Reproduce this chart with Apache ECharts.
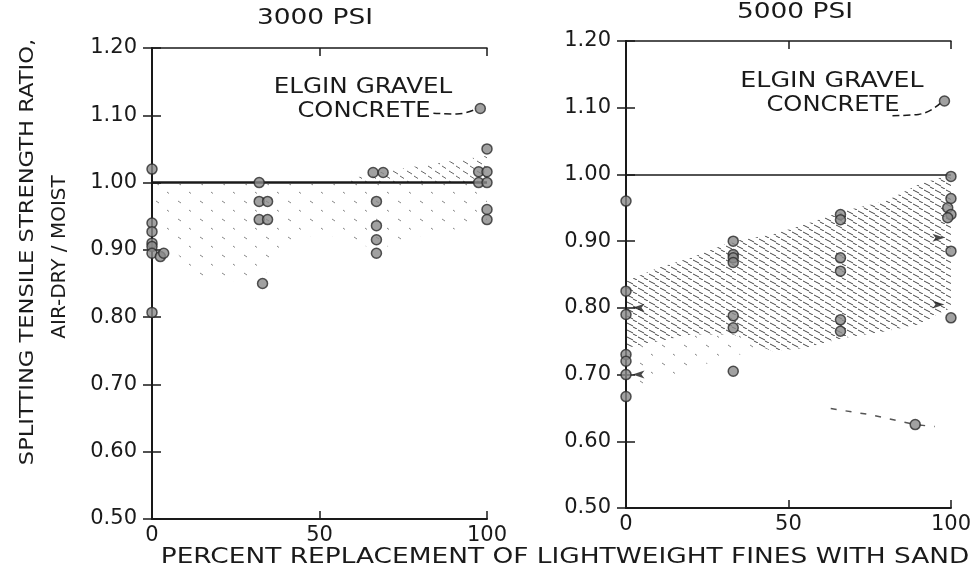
<!DOCTYPE html>
<html>
<head>
<meta charset="utf-8">
<script src="https://cdn.jsdelivr.net/npm/echarts@6/dist/echarts.min.js"></script>
<style>
    html, body { margin: 0; background: #fff; }
    #chart { width: 974px; height: 575px; }
</style>
</head>
<body>
<div id="chart"></div>
<script>
    // axis ranges
    var pctTicks = [0, 50, 100];
    var ratioMin = 0.5, ratioMax = 1.2, ratioStep = 0.1;

    // 3000 psi - measured ratios
    var psi3000Pct =   [0, 0, 0, 0, 0, 0, 0, 2.5, 3.5, 32, 32, 34.5, 32, 34.5, 33, 66, 69, 67, 67, 67, 67, 100, 97.5, 100, 97.5, 100, 100, 100];
    var psi3000Ratio = [1.02, 0.94, 0.927, 0.91, 0.905, 0.895, 0.807, 0.89, 0.895, 1.00, 0.972, 0.972, 0.945, 0.945, 0.85, 1.015, 1.015, 0.972, 0.936, 0.915, 0.895, 1.05, 1.016, 1.016, 1.00, 1.00, 0.96, 0.945];

    // 5000 psi - measured ratios
    var psi5000Pct =   [0, 0, 0, 0, 0, 0, 0, 33, 33, 33, 33, 33, 33, 33, 66, 66, 66, 66, 66, 66, 100, 100, 99, 100, 99, 100, 100, 89];
    var psi5000Ratio = [0.96, 0.825, 0.79, 0.73, 0.72, 0.70, 0.667, 0.90, 0.88, 0.875, 0.868, 0.788, 0.77, 0.705, 0.94, 0.932, 0.875, 0.855, 0.782, 0.765, 0.997, 0.964, 0.95, 0.94, 0.935, 0.885, 0.785, 0.625];

    // elgin gravel concrete
    var elginPct = [98];
    var elginRatio = [1.11];

    // small arrows on the 5000 psi edges
    var arrowLeftPct = [2, 2];
    var arrowLeftRatio = [0.80, 0.70];
    var arrowRightPct = [98, 98];
    var arrowRightRatio = [0.905, 0.805];

    // shaded bands (x, lower, upper)
    var band3000aPct = [55, 67, 80, 100];
    var band3000aLow = [1.00, 1.00, 1.00, 1.00];
    var band3000aHigh = [1.00, 1.015, 1.025, 1.04];

    var band3000bPct = [0, 10, 20, 33, 45, 55, 67, 80, 100];
    var band3000bLow = [0.98, 0.87, 0.85, 0.86, 0.92, 0.92, 0.90, 0.92, 0.94];
    var band3000bHigh = [0.998, 0.998, 0.998, 0.998, 0.998, 0.998, 0.998, 0.998, 0.998];

    var band5000aPct = [0, 10, 20, 33, 45, 55, 67, 80, 90, 100];
    var band5000aLow = [0.74, 0.75, 0.76, 0.76, 0.735, 0.74, 0.755, 0.765, 0.775, 0.80];
    var band5000aHigh = [0.84, 0.86, 0.875, 0.90, 0.91, 0.925, 0.945, 0.96, 0.985, 1.00];

    var band5000bPct = [0, 10, 20, 35, 45];
    var band5000bLow = [0.68, 0.69, 0.71, 0.73, 0.735];
    var band5000bHigh = [0.74, 0.75, 0.76, 0.76, 0.735];

    // dashed trace near 0.63
    var tailPct = [63, 75, 89, 95];
    var tailRatio = [0.649, 0.64, 0.625, 0.622];

    // elgin leaders
    var lead3000Pct = [84, 91, 97];
    var lead3000Ratio = [1.103, 1.102, 1.11];
    var lead5000Pct = [82, 90, 97];
    var lead5000Ratio = [1.088, 1.09, 1.108];

    var ink = '#1a1a1a';
    var font = 'DejaVu Sans';

    function pairs(xs, ys) {
        return xs.map(function (x, i) { return [x, ys[i]]; });
    }

    function hatch(w, h, segs, color) {
        var c = document.createElement('canvas');
        c.width = w; c.height = h;
        var ctx = c.getContext('2d');
        ctx.strokeStyle = color;
        ctx.lineWidth = 1;
        segs.forEach(function (s) {
            ctx.beginPath();
            ctx.moveTo(s[0], s[1]);
            ctx.lineTo(s[2], s[3]);
            ctx.stroke();
        });
        return { image: c, repeat: 'repeat' };
    }

    var dense = hatch(11, 7, [[0, 1, 6, 4], [6, 5, 10, 7]], '#444');
    var medium = hatch(14, 10, [[1, 1, 6, 4], [8, 6, 12, 8.5]], '#666');
    var sparse = hatch(22, 18, [[2, 3, 5, 5], [13, 12, 15, 13.5]], '#888');

    // band drawn as one polygon through the axis scales
    function band(xs, lo, hi, grid, pattern) {
        return {
            type: 'custom', xAxisIndex: grid * 2, yAxisIndex: grid * 2,
            data: xs.map(function (x, i) { return [x, lo[i], hi[i]]; }),
            encode: { x: 0, y: [1, 2] },
            silent: true, z: 1,
            renderItem: function (params, api) {
                if (params.dataIndex !== 0) return null;
                var pts = [];
                for (var i = 0; i < xs.length; i++) pts.push(api.coord([xs[i], hi[i]]));
                for (var j = xs.length - 1; j >= 0; j--) pts.push(api.coord([xs[j], lo[j]]));
                return { type: 'polygon', shape: { points: pts }, style: { fill: pattern } };
            }
        };
    }

    function axesFor(grid) {
        var xb = {
            type: 'value', gridIndex: grid, min: 0, max: 100, interval: 50, position: 'bottom',
            axisLine: { lineStyle: { color: ink, width: 2 } },
            axisTick: { inside: true, length: 8, lineStyle: { color: ink, width: 1.5 } },
            axisLabel: { fontSize: 21, color: ink, fontFamily: font, margin: 6 },
            splitLine: { show: false }
        };
        var xt = {
            type: 'value', gridIndex: grid, min: 0, max: 100, interval: 50, position: 'top',
            axisLine: { lineStyle: { color: ink, width: 1.5 } },
            axisTick: { inside: true, length: 8, lineStyle: { color: ink, width: 1.5 } },
            axisLabel: { show: false }, splitLine: { show: false }
        };
        var yl = {
            type: 'value', gridIndex: grid, min: ratioMin, max: ratioMax, interval: ratioStep, position: 'left',
            axisLine: { show: true, lineStyle: { color: ink, width: 2 } },
            axisTick: { show: true, inside: true, length: 9, lineStyle: { color: ink, width: 1.5 } },
            axisLabel: {
                fontSize: 21, color: ink, fontFamily: font, margin: 15,
                formatter: function (v) { return v.toFixed(2); }
            },
            splitLine: { show: false }
        };
        var yr = {
            type: 'value', gridIndex: grid, min: ratioMin, max: ratioMax, interval: ratioStep, position: 'right',
            axisLine: { show: true, lineStyle: { color: ink, width: 1.5 } },
            axisTick: { show: true, inside: true, length: 9, lineStyle: { color: ink, width: 1.5 } },
            axisLabel: { show: false }, splitLine: { show: false }
        };
        return { x: [xb, xt], y: [yl, yr] };
    }

    var a0 = axesFor(0), a1 = axesFor(1);

    function dots(xs, ys, grid, refWidth) {
        var s = {
            type: 'scatter', xAxisIndex: grid * 2, yAxisIndex: grid * 2,
            data: pairs(xs, ys), symbol: 'circle', symbolSize: 10, clip: false,
            itemStyle: { color: '#8a8a8a', borderColor: '#2a2a2a', borderWidth: 1.5 }, z: 5
        };
        if (refWidth) {
            s.markLine = {
                silent: true, symbol: 'none', label: { show: false },
                lineStyle: { color: ink, width: refWidth, type: 'solid' },
                data: [{ yAxis: 1.0 }]
            };
        }
        return s;
    }

    function arrows(xs, ys, rot) {
        return {
            type: 'scatter', xAxisIndex: 2, yAxisIndex: 2, data: pairs(xs, ys),
            symbol: 'arrow', symbolSize: [6, 12], symbolRotate: rot, clip: false,
            itemStyle: { color: ink }, z: 4, silent: true
        };
    }

    function leader(xs, ys, grid) {
        return {
            type: 'line', xAxisIndex: grid * 2, yAxisIndex: grid * 2, data: pairs(xs, ys),
            smooth: true, symbol: 'none', lineStyle: { color: ink, width: 1.5, type: [7, 4] }, z: 4
        };
    }

    var series = [
        band(band3000aPct, band3000aLow, band3000aHigh, 0, medium),
        band(band3000bPct, band3000bLow, band3000bHigh, 0, sparse),
        band(band5000aPct, band5000aLow, band5000aHigh, 1, dense),
        band(band5000bPct, band5000bLow, band5000bHigh, 1, sparse),
        dots(psi3000Pct, psi3000Ratio, 0, 2.5),
        dots(psi5000Pct, psi5000Ratio, 1, 1.5),
        dots(elginPct, elginRatio, 0),
        dots(elginPct, elginRatio, 1),
        arrows(arrowLeftPct, arrowLeftRatio, 90),
        arrows(arrowRightPct, arrowRightRatio, -90),
        leader(lead3000Pct, lead3000Ratio, 0),
        leader(lead5000Pct, lead5000Ratio, 1),
        {
            type: 'line', xAxisIndex: 2, yAxisIndex: 2, data: pairs(tailPct, tailRatio),
            symbol: 'none', lineStyle: { color: '#555', width: 1.5, type: [6, 9] }, z: 3
        }
    ];

    function txt(s, x, y, size, sx, rot) {
        return {
            type: 'text', x: x, y: y, rotation: rot || 0, scaleX: sx || 1,
            style: { text: s, fill: ink, font: size + 'px "' + font + '"', align: 'center', verticalAlign: 'middle' }
        };
    }

    var chart = echarts.init(document.getElementById('chart'));
    chart.setOption({
        animation: false,
        backgroundColor: '#fff',
        grid: [
            { left: 152, top: 48, width: 335, height: 471 },
            { left: 626, top: 41, width: 339, height: 467 }
        ],
        xAxis: [a0.x[0], a0.x[1], a1.x[0], a1.x[1]],
        yAxis: [a0.y[0], a0.y[1], a1.y[0], a1.y[1]],
        series: series,
        graphic: [
            txt('3000 PSI', 315, 18, 22, 1.2),
            txt('5000 PSI', 795, 12, 22, 1.2),
            txt('ELGIN GRAVEL', 363, 87, 22, 1.12),
            txt('CONCRETE', 364, 111, 22, 1.1),
            txt('ELGIN GRAVEL', 832, 81, 22, 1.15),
            txt('CONCRETE', 833, 105, 22, 1.1),
            txt('SPLITTING TENSILE STRENGTH RATIO,', 28, 252, 20, 1.13, Math.PI / 2),
            txt('AIR-DRY / MOIST', 60, 257, 20, 1.0, Math.PI / 2),
            txt('PERCENT REPLACEMENT OF LIGHTWEIGHT FINES WITH SAND', 565, 557, 22, 1.2)
        ]
    });
    window.onresize = function () { chart.resize(); };
</script>
</body>
</html>
